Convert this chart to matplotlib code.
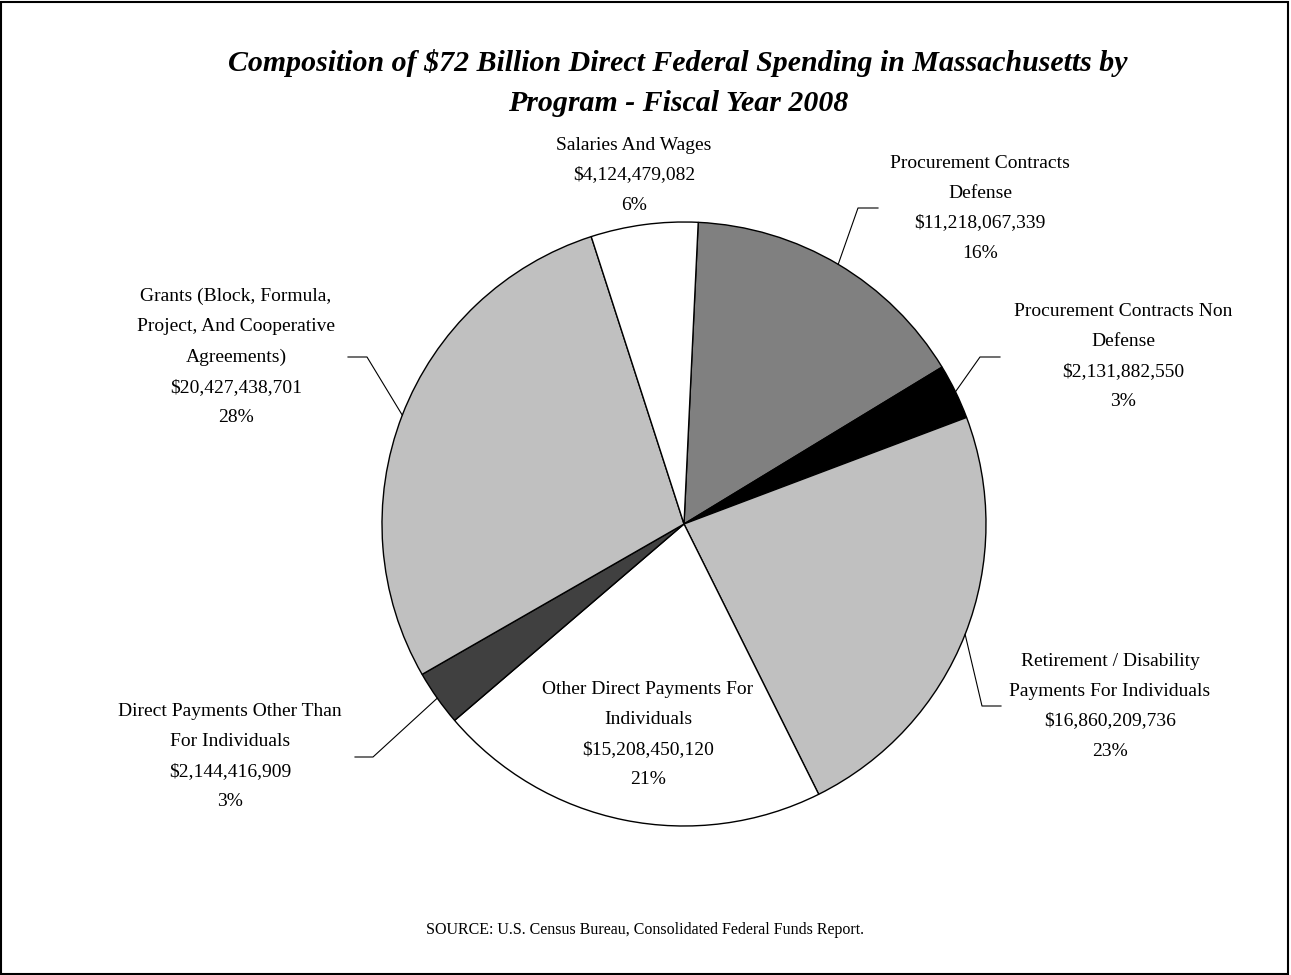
import matplotlib.pyplot as plt
import numpy as np
from matplotlib.patches import Rectangle

# data, clockwise from the top of the pie
programs = ["Procurement Contracts\nDefense",
            "Procurement Contracts Non\nDefense",
            "Retirement / Disability\nPayments For Individuals",
            "Other Direct Payments For\nIndividuals",
            "Direct Payments Other Than\nFor Individuals",
            "Grants (Block, Formula,\nProject, And Cooperative\nAgreements)",
            "Salaries And Wages"]
amounts = [11218067339, 2131882550, 16860209736, 15208450120,
           2144416909, 20427438701, 4124479082]
colors = ["#808080", "#000000", "#C0C0C0", "#FFFFFF",
          "#404040", "#C0C0C0", "#FFFFFF"]

W, H = 1291, 975
plt.rcParams['font.family'] = ['Liberation Serif', 'DejaVu Serif']

fig = plt.figure(figsize=(W / 100, H / 100), dpi=100)
ax = fig.add_axes([0, 0, 1, 1])

cx, cy, r = 684, H - 524, 302
wedges, _ = ax.pie(amounts, colors=colors, startangle=87.3, counterclock=False,
                   center=(cx, cy), radius=r, frame=True,
                   wedgeprops=dict(edgecolor="black", linewidth=1.0))
ax.set_xlim(0, W)
ax.set_ylim(0, H)
ax.set_aspect('equal')
ax.axis('off')

total = sum(amounts)
labels = [f"{p}\n${a:,}\n{a / total * 100:.0f}%" for p, a in zip(programs, amounts)]

# label centre (pixel coords from top-left), leader elbow x, leader end x (None = no leader)
layout = [
    (980, 208, 858, 878),
    (1123, 357, 980, 1000),
    (1110, 706, 982, 1001),
    (648, 735, None, None),
    (230, 757, 373, 355),
    (236, 357, 367, 348),
    (634, 175, None, None),
]

for w, lab, (lx, ly, ex, endx) in zip(wedges, labels, layout):
    ax.text(lx, H - ly, lab, ha="center", va="center", fontsize=14,
            linespacing=2.0, color="black")
    if ex is not None:
        mid = np.deg2rad((w.theta1 + w.theta2) / 2)
        px, py = cx + r * np.cos(mid), cy + r * np.sin(mid)
        ey = H - ly
        ax.plot([px, ex, endx], [py, ey, ey], color="black", linewidth=0.8)

fig.text(678 / W, 1 - 83 / H,
         "Composition of $72 Billion Direct Federal Spending in Massachusetts by\n"
         "Program - Fiscal Year 2008",
         ha="center", va="center", fontsize=21.5, fontweight="bold", fontstyle="italic",
         linespacing=1.6)
fig.text(645 / W, 1 - 930 / H,
         "SOURCE: U.S. Census Bureau, Consolidated Federal Funds Report.",
         ha="center", va="center", fontsize=11.5)

fig.patches.append(Rectangle((0.001, 0.001), 0.997, 0.997, transform=fig.transFigure,
                             fill=False, edgecolor="black", linewidth=1.5))

fig.savefig("out.png", dpi=100)
